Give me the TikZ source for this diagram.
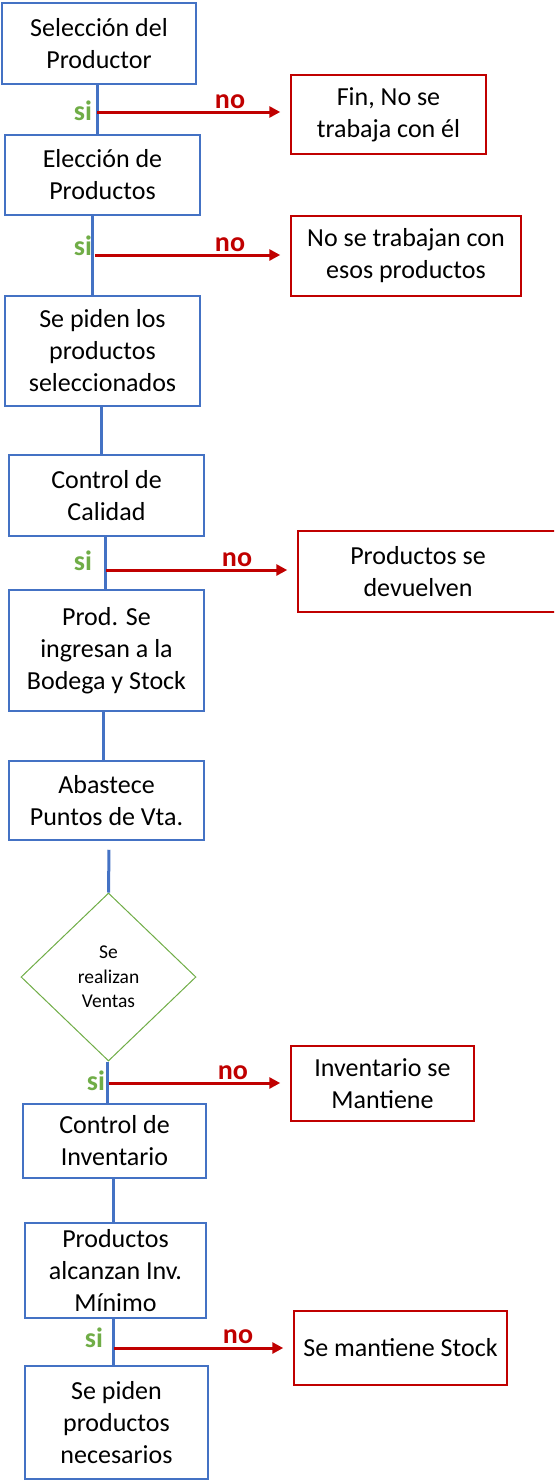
\documentclass[tikz,border=0pt]{standalone}
\usepackage{fontspec}
\setmainfont{Carlito}
\usetikzlibrary{shapes.geometric,arrows.meta,calc}
\definecolor{boxblue}{HTML}{4472C4}
\definecolor{nored}{HTML}{C00000}
\definecolor{sigreen}{HTML}{70AD47}

\begin{document}
\begin{tikzpicture}[x=1pt,y=-1pt,
  every node/.style={inner sep=0pt},
  procbox/.style={draw=boxblue,line width=1.5pt,align=center,font=\fontsize{26}{32}\selectfont},
  endbox/.style={draw=nored,line width=1.5pt,align=center,font=\fontsize{26}{32}\selectfont},
  decision/.style={diamond,draw=sigreen,line width=1pt,align=center,
    font=\fontsize{19.5}{24.5}\selectfont,minimum width=175pt,minimum height=168pt},
  flow/.style={draw=boxblue,line width=3pt},
  noarrow/.style={draw=nored,line width=3pt,-{Triangle[length=11pt,width=11pt]},shorten >=10pt},
  silabel/.style={anchor=base,text=sigreen,font=\fontsize{28}{30}\selectfont\bfseries},
  nolabel/.style={anchor=base,text=nored,font=\fontsize{28}{30}\selectfont\bfseries}]

\useasboundingbox (0,0) rectangle (554,1480);
\clip (0,0) rectangle (554,1480);

% main process column
\node[procbox,minimum width=194pt,minimum height=81pt] (b1) at (99,43.5) {Selección del\\Productor};
\node[procbox,minimum width=195pt,minimum height=80pt] (b2) at (102.5,175) {Elección de\\Productos};
\node[procbox,minimum width=195pt,minimum height=110pt] (b3) at (102.5,351) {Se piden los\\productos\\seleccionados};
\node[procbox,minimum width=195pt,minimum height=81pt] (b4) at (106.5,495.5) {Control de\\Calidad};
\node[procbox,minimum width=195pt,minimum height=121pt] (b5) at (106.5,650.5) {Prod. Se\\ingresan a la\\Bodega y Stock};
\node[procbox,minimum width=195pt,minimum height=79pt] (b6) at (106.5,800.5) {Abastece\\Puntos de Vta.};
\node[decision] (d) at (108.5,977) {Se\\realizan\\Ventas};
\node[procbox,minimum width=183pt,minimum height=74pt] (b7) at (114.5,1141) {Control de\\Inventario};
\node[procbox,minimum width=181pt,minimum height=95pt] (b8) at (115.5,1270.5) {Productos\\alcanzan Inv.\\Mínimo};
\node[procbox,minimum width=183pt,minimum height=113pt] (b9) at (116.5,1422.5) {Se piden\\productos\\necesarios};

% rejection outcomes
\node[endbox,minimum width=195pt,minimum height=79pt] (r1) at (388.5,114.5) {Fin, No se\\trabaja con él};
\node[endbox,minimum width=230pt,minimum height=80pt] (r2) at (406,256) {No se trabajan con\\esos productos};
\node[endbox,minimum width=258pt,minimum height=81pt] (r3) at (427,571.5)
  {Productos se\hspace*{18pt}\\devuelven\hspace*{18pt}};
\node[endbox,minimum width=183pt,minimum height=75pt] (r4) at (382.5,1083.5) {Inventario se\\Mantiene};
\node[endbox,minimum width=213pt,minimum height=74pt] (r5) at (400.5,1348) {Se mantiene Stock};

% vertical flow
\draw[flow] (b1.south -| 97,0) -- (b2.north -| 97,0);
\draw[flow] (b2.south -| 92,0) -- (b3.north -| 92,0);
\draw[flow] (b3.south -| 101,0) -- (b4.north -| 101,0);
\draw[flow] (b4.south -| 105,0) -- (b5.north -| 105,0);
\draw[flow] (b5.south -| 103,0) -- (b6.north -| 103,0);
\draw[flow] ($(b6.south -| 109,0)+(0,9)$) -- (d.north);
\draw[flow] (d.south -| 107,0) -- (b7.north -| 107,0);
\draw[flow] (b7.south -| 113,0) -- (b8.north -| 113,0);
\draw[flow] (b8.south -| 113,0) -- (b9.north -| 113,0);

% branch points
\coordinate (j1) at (97,112);
\coordinate (j2) at (95,255);
\coordinate (j3) at (106,570);
\coordinate (j4) at (109,1083);
\coordinate (j5) at (114,1348);

\draw[noarrow] (j1) -- (j1 -| r1.west);
\draw[noarrow] (j2) -- (j2 -| r2.west);
\draw[noarrow] (j3) -- (j3 -| r3.west);
\draw[noarrow] (j4) -- (j4 -| r4.west);
\draw[noarrow] (j5) -- (j5 -| r5.west);

% branch labels
\node[silabel] (si1) at (83,120.5) {si};
\node[silabel] (si2) at (83,255) {si};
\node[silabel] (si3) at (83,570.5) {si};
\node[silabel] (si4) at (96,1090) {si};
\node[silabel] (si5) at (94,1347) {si};

\node[nolabel] (no1) at (230,108) {no};
\node[nolabel] (no2) at (230,251.5) {no};
\node[nolabel] (no3) at (237,566.5) {no};
\node[nolabel] (no4) at (233,1079) {no};
\node[nolabel] (no5) at (238,1343) {no};
\end{tikzpicture}
\end{document}
